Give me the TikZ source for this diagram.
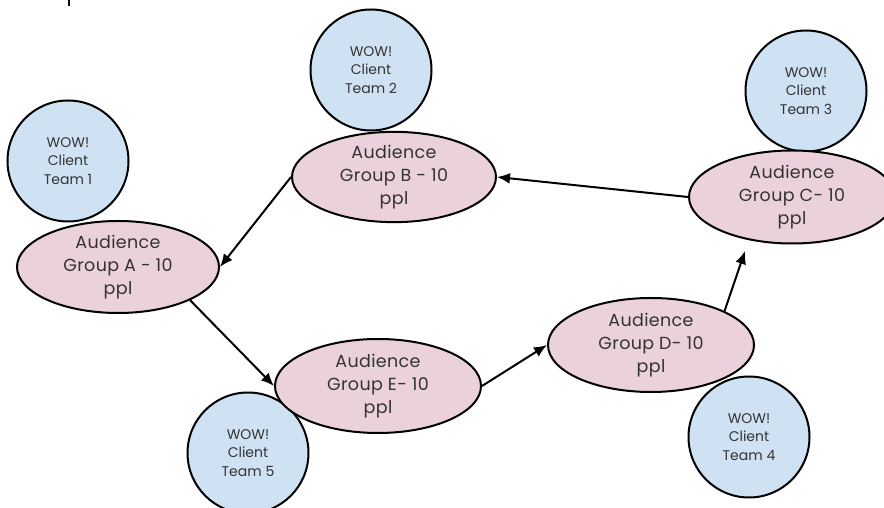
\documentclass[tikz,border=0pt]{standalone}
\usepackage{fontspec}
\setmainfont{Poppins}
\usetikzlibrary{arrows.meta,shapes.geometric}
\definecolor{pinkfill}{HTML}{EAD1DC}
\definecolor{bluefill}{HTML}{CFE2F3}
\definecolor{txt}{HTML}{333333}
\tikzset{
  group/.style={ellipse, draw=black, line width=2pt, fill=pinkfill, inner sep=0pt,
    text=txt, align=center, font=\fontsize{17.5}{23}\selectfont\addfontfeature{LetterSpace=2}},
  team/.style={circle, draw=black, line width=2pt, fill=bluefill, inner sep=0pt,
    minimum size=121pt, text=txt, align=center, font=\fontsize{14}{18.5}\selectfont},
  arr/.style={line width=2pt, -{Latex[length=13pt,width=11pt]}}
}
\begin{document}
\begin{tikzpicture}[x=1pt,y=1pt]
\useasboundingbox (0,0) rectangle (884,508);
\fill[white] (0,0) rectangle (884,508);
% stray mark at top left
\draw[line width=2pt] (69,502) -- (69,508);
% client teams
\node[team] (t1) at (68,347) {WOW!\\Client\\Team 1};
\node[team] (t2) at (371,438) {WOW!\\Client\\Team 2};
\node[team] (t3) at (806,417) {WOW!\\Client\\Team 3};
\node[team] (t4) at (749,71) {WOW!\\Client\\Team 4};
\node[team] (t5) at (248,55) {WOW!\\Client\\Team 5};
% audience groups
\node[group, minimum width=202pt, minimum height=92pt] (A) at (118,241) {Audience\\Group A - 10\\ppl};
\node[group, minimum width=204pt, minimum height=90pt] (B) at (394,331) {Audience\\Group B - 10\\ppl};
\node[group, minimum width=206pt, minimum height=93pt] (C) at (792,311) {Audience\\Group C- 10\\ppl};
\node[group, minimum width=206pt, minimum height=94pt] (D) at (651,163) {Audience\\Group D- 10\\ppl};
\node[group, minimum width=206pt, minimum height=94pt] (E) at (378,122) {Audience\\Group E- 10\\ppl};
% connectors
\coordinate (cEnd) at (745,257);
\draw[arr] (C.west) -- (B.east);
\draw[arr] (B.west) -- (A.east);
\draw[arr] (A.south east) -- (E.west);
\draw[arr] (E.east) -- (D.west);
\draw[arr] (D.north east) -- (cEnd);
\end{tikzpicture}
\end{document}
